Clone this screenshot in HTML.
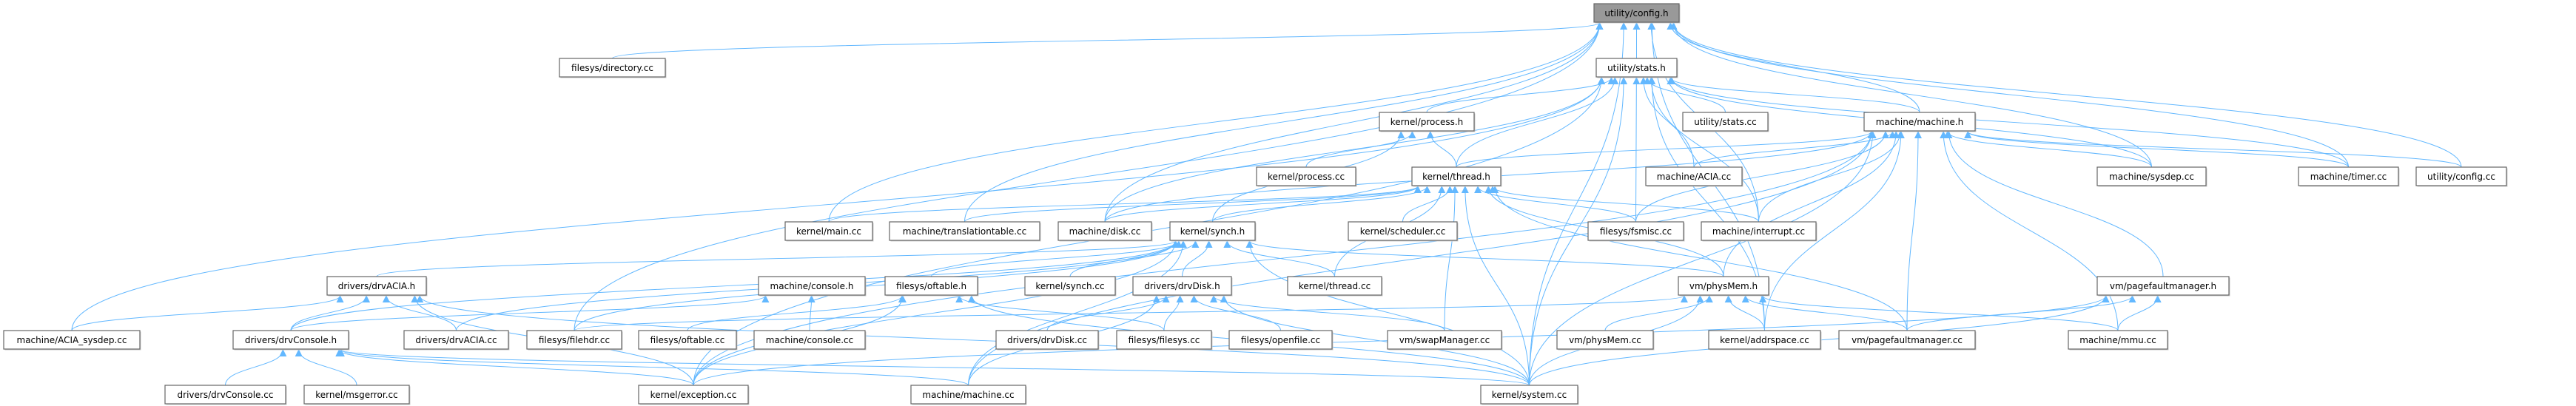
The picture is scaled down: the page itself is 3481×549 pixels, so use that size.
<!DOCTYPE html>
<html><head><meta charset="utf-8">
<style>
html,body{margin:0;padding:0;background:#fff;width:3481px;height:549px;overflow:hidden}
svg{position:absolute;left:0;top:0}
text{font-family:"DejaVu Sans","Liberation Sans",sans-serif;font-size:12px;fill:#000}
</style></head>
<body>
<svg id="g" width="3481" height="549" viewBox="0 0 3481 549" xmlns="http://www.w3.org/2000/svg">
<defs><marker id="a" viewBox="0 0 10 10" refX="9" refY="5" markerWidth="10" markerHeight="10" markerUnits="userSpaceOnUse" orient="auto"><path d="M0,0 L10,5 L0,10 z" fill="#63b8ff"/></marker></defs>
<g id="e" fill="none" stroke="#63b8ff" stroke-width="1"></g>
<g id="n"></g>
</svg>
<script>
var R=[5,79,152,226,300,374,447,521],H=25;
var N={
cfg:["utility/config.h",2154,2269,0],
dir:["filesys/directory.cc",756,899,1],
stats:["utility/stats.h",2157,2266,1],
proch:["kernel/process.h",1864,1992,2],
statscc:["utility/stats.cc",2274,2389,2],
mach:["machine/machine.h",2519,2669,2],
proccc:["kernel/process.cc",1698,1832,3],
thr:["kernel/thread.h",1908,2028,3],
acia:["machine/ACIA.cc",2224,2354,3],
sysdep:["machine/sysdep.cc",2834,2981,3],
timer:["machine/timer.cc",3106,3241,3],
cfgcc:["utility/config.cc",3265,3387,3],
main:["kernel/main.cc",1061,1179,4],
tt:["machine/translationtable.cc",1202,1405,4],
disk:["machine/disk.cc",1430,1556,4],
synh:["kernel/synch.h",1581,1696,4],
sched:["kernel/scheduler.cc",1822,1969,4],
fsm:["filesys/fsmisc.cc",2146,2275,4],
intr:["machine/interrupt.cc",2299,2454,4],
dacia:["drivers/drvACIA.h",442,576,5],
conh:["machine/console.h",1025,1169,5],
oft:["filesys/oftable.h",1196,1321,5],
syncc:["kernel/synch.cc",1385,1507,5],
ddisk:["drivers/drvDisk.h",1531,1664,5],
thrcc:["kernel/thread.cc",1740,1867,5],
pmh:["vm/physMem.h",2268,2390,5],
pfh:["vm/pagefaultmanager.h",2834,3012,5],
aciasd:["machine/ACIA_sysdep.cc",5,189,6],
dconh:["drivers/drvConsole.h",315,471,6],
daciacc:["drivers/drvACIA.cc",546,687,6],
fhdr:["filesys/filehdr.cc",712,840,6],
oftcc:["filesys/oftable.cc",863,995,6],
concc:["machine/console.cc",1019,1169,6],
ddiskcc:["drivers/drvDisk.cc",1346,1484,6],
fs:["filesys/filesys.cc",1509,1637,6],
of:["filesys/openfile.cc",1661,1800,6],
swap:["vm/swapManager.cc",1875,2029,6],
pmcc:["vm/physMem.cc",2104,2234,6],
as:["kernel/addrspace.cc",2309,2460,6],
pfcc:["vm/pagefaultmanager.cc",2485,2669,6],
mmu:["machine/mmu.cc",2795,2929,6],
dconcc:["drivers/drvConsole.cc",223,386,7],
msg:["kernel/msgerror.cc",411,553,7],
exc:["kernel/exception.cc",863,1011,7],
mcc:["machine/machine.cc",1231,1386,7],
sys:["kernel/system.cc",2001,2132,7]
};
var E={
cfg:["dir","stats","main","tt","disk","sysdep","timer","cfgcc","sys","as","fhdr","intr","mach"],
stats:["proch","thr","statscc","acia","mach","fsm","intr","timer","aciasd","disk","sys","exc","as","sysdep"],
mach:["thr","acia","intr","sysdep","timer","cfgcc","pmh","pfh","as","mmu","mcc","sys","exc","disk","pfcc","fsm"],
proch:["proccc","thr","synh"],
thr:["tt","main","disk","synh","sched","fsm","intr","thrcc","swap","sys","pmh","pfcc"],
synh:["dacia","oft","syncc","ddisk","thrcc","pmh","dconh","exc","sys","mcc","daciacc","fhdr"],
dacia:["aciasd","daciacc","exc","sys","dconh"],
dconh:["dconcc","msg","exc","sys","mcc"],
conh:["dconh","concc"],
oft:["oftcc","fs","sys","exc"],
ddisk:["ddiskcc","of","swap","sys","mcc","fs"],
pmh:["pmcc","as","pfcc","mmu","sys","fhdr"],
pfh:["pfcc","mmu","exc","sys"]
};
var eg=document.getElementById("e"),ng=document.getElementById("n"),ns="http://www.w3.org/2000/svg";
function mk(t,a){var el=document.createElementNS(ns,t);for(var k in a)el.setAttribute(k,a[k]);return el;}
for(var t in E){var T=N[t],tc=(T[1]+T[2])/2,tw=T[2]-T[1],ty=R[T[3]]+H;
E[t].forEach(function(s){var S=N[s],sc=(S[1]+S[2])/2,sy=R[S[3]];
var dx=(sc-tc)*0.12;dx=Math.max(-tw/2.3,Math.min(tw/2.3,dx));var ex=tc+dx;
var dy=sy-ty,d;
d="M"+sc+","+sy+" C"+sc+","+(sy-dy*0.5)+" "+ex+","+(ty+dy*0.5)+" "+ex+","+(ty+1);
eg.appendChild(mk("path",{d:d,"marker-end":"url(#a)"}));});}
for(var k in N){var n=N[k],y=R[n[3]];
ng.appendChild(mk("rect",{x:n[1]+1.5,y:y+1.5,width:n[2]-n[1],height:H,fill:"#ccc"}));
ng.appendChild(mk("rect",{x:n[1],y:y,width:n[2]-n[1],height:H,fill:k=="cfg"?"#999":"#fff",stroke:"#666","stroke-width":1.2}));
var tx=mk("text",{x:(n[1]+n[2])/2,y:y+17,"text-anchor":"middle"});tx.textContent=n[0];ng.appendChild(tx);}
</script>
</body></html>
